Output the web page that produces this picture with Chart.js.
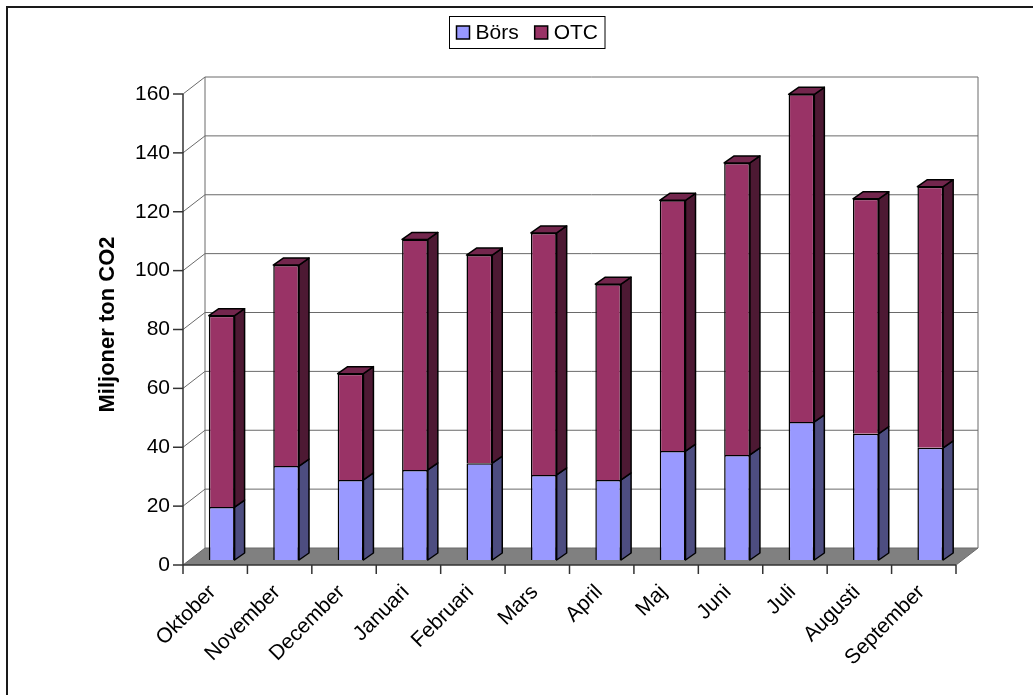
<!DOCTYPE html>
<html>
<head>
<meta charset="utf-8">
<script src="https://cdn.jsdelivr.net/npm/chart.js@4.4.1/dist/chart.umd.min.js"></script>
<style>
    html, body { margin: 0; padding: 0; background: #fff; }
    canvas { display: block; }
</style>
</head>
<body>
<canvas id="chartCanvas" width="1033" height="695"></canvas>
<script>
// Handel per månad, miljoner ton CO2
const months = ['Oktober', 'November', 'December', 'Januari', 'Februari', 'Mars',
    'April', 'Maj', 'Juni', 'Juli', 'Augusti', 'September'];
const borsValues = [18, 31.9, 27.2, 30.6, 32.9, 28.9, 27.2, 37.0, 35.7, 46.9, 42.9, 38.1];
const otcValues = [65, 68.3, 36.1, 78.3, 70.7, 82.2, 66.5, 85.2, 99.2, 111.3, 79.8, 88.7];
const yTickValues = [0, 20, 40, 60, 80, 100, 120, 140, 160];

const FONT = '"Liberation Sans", Arial, sans-serif';

// förskjutningar för 3D-effekten (framkant, bakvägg, stapelns djup)
const FRONT = { dx: -6.5, dy: 5 };
const BACK = { dx: 15.5, dy: -12 };
const SIDE = { dx: 10, dy: -7 };

function line(ctx, x1, y1, x2, y2) {
    ctx.beginPath();
    ctx.moveTo(x1, y1);
    ctx.lineTo(x2, y2);
    ctx.stroke();
}

function poly(ctx, pts, fill) {
    ctx.beginPath();
    ctx.moveTo(pts[0][0], pts[0][1]);
    pts.slice(1).forEach(p => ctx.lineTo(p[0], p[1]));
    ctx.closePath();
    ctx.fillStyle = fill;
    ctx.fill();
    ctx.stroke();
}

const depth3d = {
    id: 'depth3d',
    beforeDatasetsDraw(chart) {
        const { ctx, chartArea: a, scales: { x, y } } = chart;
        const y0 = y.getPixelForValue(0);
        const yTop = y.getPixelForValue(y.max);
        ctx.save();

        // golv
        ctx.fillStyle = '#808080';
        ctx.beginPath();
        ctx.moveTo(a.left + FRONT.dx, y0 + FRONT.dy);
        ctx.lineTo(a.right + FRONT.dx, y0 + FRONT.dy);
        ctx.lineTo(a.right + BACK.dx, y0 + BACK.dy);
        ctx.lineTo(a.left + BACK.dx, y0 + BACK.dy);
        ctx.closePath();
        ctx.fill();

        // stödlinjer på sidovägg och bakvägg
        ctx.strokeStyle = '#6a6a6a';
        ctx.lineWidth = 1;
        y.ticks.forEach(t => {
            const py = y.getPixelForValue(t.value);
            line(ctx, a.left + FRONT.dx, py + FRONT.dy, a.left + BACK.dx, py + BACK.dy);
            line(ctx, a.left + BACK.dx, py + BACK.dy, a.right + BACK.dx, py + BACK.dy);
        });
        line(ctx, a.left + BACK.dx, yTop + BACK.dy, a.left + BACK.dx, y0 + BACK.dy);
        line(ctx, a.right + BACK.dx, yTop + BACK.dy, a.right + BACK.dx, y0 + BACK.dy);
        line(ctx, a.right + FRONT.dx, y0 + FRONT.dy, a.right + BACK.dx, y0 + BACK.dy);

        // axlar och skalstreck
        ctx.strokeStyle = '#333';
        ctx.lineWidth = 1.5;
        line(ctx, a.left + FRONT.dx, yTop + FRONT.dy, a.left + FRONT.dx, y0 + FRONT.dy);
        line(ctx, a.left + FRONT.dx, y0 + FRONT.dy, a.right + FRONT.dx, y0 + FRONT.dy);
        y.ticks.forEach(t => {
            const py = y.getPixelForValue(t.value) + FRONT.dy;
            line(ctx, a.left + FRONT.dx - 10, py, a.left + FRONT.dx, py);
        });
        const n = x.ticks.length;
        const step = (a.right - a.left) / n;
        for (let k = 0; k <= n; k++) {
            const px = a.left + k * step + FRONT.dx;
            line(ctx, px, y0 + FRONT.dy, px, y0 + FRONT.dy + 9);
        }
        ctx.restore();
    },
    afterDatasetsDraw(chart) {
        const { ctx } = chart;
        const last = chart.data.datasets.length - 1;
        ctx.save();
        ctx.strokeStyle = '#000';
        ctx.lineWidth = 1.5;
        ctx.lineJoin = 'round';
        chart.data.datasets.forEach((ds, di) => {
            chart.getDatasetMeta(di).data.forEach(bar => {
                const { x, y, base, width } = bar.getProps(['x', 'y', 'base', 'width'], true);
                const l = x - width / 2, r = x + width / 2;
                // sida
                poly(ctx, [[r, y], [r + SIDE.dx, y + SIDE.dy], [r + SIDE.dx, base + SIDE.dy], [r, base]], ds.sideColor);
                // topp, bara på översta serien
                if (di === last) {
                    poly(ctx, [[l, y], [l + SIDE.dx, y + SIDE.dy], [r + SIDE.dx, y + SIDE.dy], [r, y]], ds.topColor);
                }
            });
        });
        ctx.restore();
    },
    afterDraw(chart) {
        const { ctx } = chart;
        ctx.save();

        // ram runt diagrammet
        ctx.strokeStyle = '#1a1a1a';
        ctx.lineWidth = 2;
        ctx.beginPath();
        ctx.moveTo(7, chart.height);
        ctx.lineTo(7, 7);
        ctx.lineTo(chart.width, 7);
        ctx.stroke();

        // förklaring med ram
        ctx.font = '21px ' + FONT;
        ctx.textBaseline = 'middle';
        const sq = 13, gap = 6, itemGap = 16, pad = 7;
        const items = chart.data.datasets.map(ds => ({
            text: ds.label, color: ds.backgroundColor, w: ctx.measureText(ds.label).width
        }));
        let total = pad * 2 + itemGap * (items.length - 1);
        items.forEach(it => { total += sq + gap + it.w; });
        const boxLeft = Math.round(527 - total / 2) + 0.5;
        const boxTop = 16.5, boxH = 32, cy = 32.5;
        ctx.lineWidth = 1;
        ctx.strokeStyle = '#000';
        ctx.strokeRect(boxLeft, boxTop, total, boxH);
        let cx = boxLeft + pad;
        items.forEach(it => {
            ctx.fillStyle = it.color;
            ctx.fillRect(cx, cy - sq / 2, sq, sq);
            ctx.lineWidth = 1.5;
            ctx.strokeRect(cx, cy - sq / 2, sq, sq);
            ctx.fillStyle = '#000';
            ctx.fillText(it.text, cx + sq + gap, cy + 1);
            cx += sq + gap + it.w + itemGap;
        });
        ctx.restore();
    }
};

Chart.defaults.font.family = FONT;
Chart.defaults.font.size = 21;
Chart.defaults.color = '#000';

const ctx = document.getElementById('chartCanvas').getContext('2d');
new Chart(ctx, {
    type: 'bar',
    data: {
        labels: months,
        datasets: [
            {
                label: 'Börs',
                data: borsValues,
                backgroundColor: '#9999ff',
                sideColor: '#4d4d80',
                topColor: '#7373bf',
                borderColor: '#000',
                borderWidth: 1.5
            },
            {
                label: 'OTC',
                data: otcValues,
                backgroundColor: '#993366',
                sideColor: '#4d1933',
                topColor: '#73264d',
                borderColor: '#000',
                borderWidth: 1.5
            }
        ]
    },
    options: {
        responsive: false,
        animation: false,
        devicePixelRatio: 1,
        layout: {
            padding: { left: 95, right: 70.5, top: 89, bottom: 0 }
        },
        datasets: {
            bar: { barPercentage: 0.4, categoryPercentage: 1 }
        },
        plugins: {
            legend: { display: false },
            tooltip: { enabled: false }
        },
        scales: {
            x: {
                stacked: true,
                grid: { display: false, drawTicks: false },
                border: { display: false },
                ticks: {
                    autoSkip: false,
                    minRotation: 45,
                    maxRotation: 45,
                    labelOffset: -9,
                    padding: 20,
                    font: { size: 21 }
                },
                afterFit(scale) { scale.height = 135; }
            },
            y: {
                stacked: true,
                min: 0,
                max: 160,
                grid: { display: false, drawTicks: false },
                border: { display: false },
                afterBuildTicks(scale) {
                    scale.ticks = yTickValues.map(v => ({ value: v }));
                },
                ticks: {
                    labelOffset: 5,
                    padding: 19.5,
                    font: { size: 21 }
                },
                title: {
                    display: true,
                    text: 'Miljoner ton CO2',
                    font: { size: 22, weight: 'bold' },
                    padding: { top: 0, bottom: 0 }
                },
                afterFit(scale) { scale.width = 94.5; }
            }
        }
    },
    plugins: [depth3d]
});
</script>
</body>
</html>
